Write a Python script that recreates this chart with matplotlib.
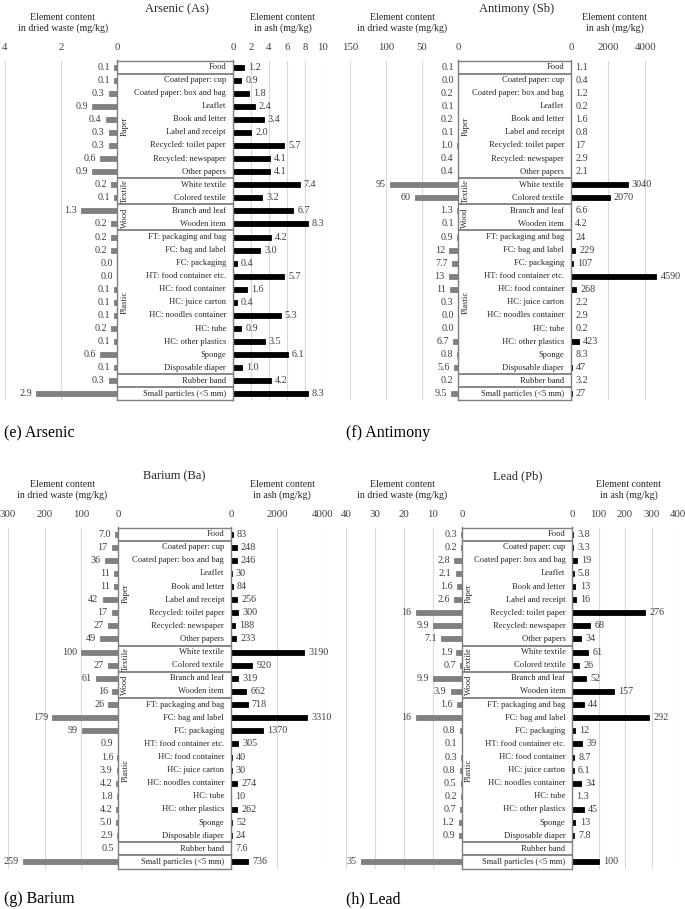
import numpy as np
import matplotlib
matplotlib.use("Agg")
import matplotlib.pyplot as plt

plt.rcParams['font.family'] = ['Liberation Serif', 'DejaVu Serif']

items = ["Food", "Coated paper: cup", "Coated paper: box and bag", "Leaflet",
         "Book and letter", "Label and receipt", "Recycled: toilet paper",
         "Recycled: newspaper", "Other papers", "White textile", "Colored textile",
         "Branch and leaf", "Wooden item", "FT: packaging and bag", "FC: bag and label",
         "FC: packaging", "HT: food container etc.", "HC: food container",
         "HC: juice carton", "HC: noodles container", "HC: tube", "HC: other plastics",
         "Sponge", "Disposable diaper", "Rubber band", "Small particles (<5 mm)"]

groups = ["Paper", "Textile", "Wood", "Plastic"]
group_rows = [(1, 8), (9, 10), (11, 12), (13, 23)]
separators = [0.5, 8.5, 10.5, 12.5, 23.5, 24.5]

as_dried = [0.1, 0.1, 0.3, 0.9, 0.4, 0.3, 0.3, 0.6, 0.9, 0.2, 0.1, 1.3, 0.2,
            0.2, 0.2, 0.0, 0.0, 0.1, 0.1, 0.1, 0.2, 0.1, 0.6, 0.1, 0.3, 2.9]
as_ash = [1.2, 0.9, 1.8, 2.4, 3.4, 2.0, 5.7, 4.1, 4.1, 7.4, 3.2, 6.7, 8.3,
          4.2, 3.0, 0.4, 5.7, 1.6, 0.4, 5.3, 0.9, 3.5, 6.1, 1.0, 4.2, 8.3]

sb_dried = [0.1, 0.0, 0.2, 0.1, 0.2, 0.1, 1.0, 0.4, 0.4, 95, 60, 1.3, 0.1,
            0.9, 12, 7.7, 13, 11, 0.3, 0.0, 0.0, 6.7, 0.8, 5.6, 0.2, 9.5]
sb_ash = [1.1, 0.4, 1.2, 0.2, 1.6, 0.8, 17, 2.9, 2.1, 3040, 2070, 6.6, 4.2,
          24, 229, 107, 4590, 268, 2.2, 2.9, 0.2, 423, 8.3, 47, 3.2, 27]

ba_dried = [7.0, 17, 36, 11, 11, 42, 17, 27, 49, 100, 27, 61, 16,
            26, 179, 99, 0.9, 1.6, 3.9, 4.2, 1.8, 4.2, 5.0, 2.9, 0.5, 259]
ba_ash = [83, 248, 246, 30, 84, 256, 300, 188, 233, 3190, 920, 319, 662,
          718, 3310, 1370, 305, 40, 30, 274, 10, 262, 52, 24, 7.6, 736]

pb_dried = [0.3, 0.2, 2.8, 2.1, 1.6, 2.6, 16, 9.9, 7.1, 1.9, 0.7, 9.9, 3.9,
            1.6, 16, 0.8, 0.1, 0.3, 0.8, 0.5, 0.2, 0.7, 1.2, 0.9, np.nan, 35]
pb_ash = [3.8, 3.3, 19, 5.8, 13, 16, 276, 68, 34, 61, 26, 52, 157,
          44, 292, 12, 39, 8.7, 6.1, 34, 1.3, 45, 13, 7.8, np.nan, 100]

W, H = 685, 909
fig = plt.figure(figsize=(6.85, 9.09), dpi=100)


def fx(x):
    return x / W


def fy(y):
    return 1 - y / H


def fmt(v):
    return f"{v:.1f}" if v < 10 else f"{v:.0f}"


def side(x0, x1, ytop, ybot, vals, xmax, ticks, color, left):
    ax = fig.add_axes([fx(x0), fy(ybot), fx(x1) - fx(x0), (ybot - ytop) / H])
    rows = np.arange(len(items))
    v = np.array(vals, dtype=float)
    ok = ~np.isnan(v)
    ax.barh(rows[ok], v[ok], height=0.38, color=color, edgecolor=color, linewidth=0.6, zorder=3)
    for r, val in zip(rows[ok], v[ok]):
        if left:
            ax.annotate(fmt(val), (val, r), xytext=(-3, 0), textcoords='offset points',
                        ha='right', va='center', fontsize=7.3, color='#404040')
        else:
            ax.annotate(fmt(val), (val, r), xytext=(3, 0), textcoords='offset points',
                        ha='left', va='center', fontsize=7.3, color='#404040')
    ax.set_ylim(len(items) - 0.5, -0.5)
    if left:
        ax.set_xlim(xmax, 0)
    else:
        ax.set_xlim(0, xmax)
    ax.set_xticks(ticks)
    ax.xaxis.tick_top()
    ax.tick_params(axis='x', length=0, pad=6, labelsize=7.8, labelcolor='#404040')
    ax.set_yticks([])
    for t in ticks:
        if t != 0:
            ax.axvline(t, color='#d9d9d9', lw=0.8, zorder=0)
    for s in ax.spines.values():
        s.set_visible(False)
    return ax


def panel(xs, ytop, ybot, dried, ash, lmax, lticks, rmax, rticks, title, letter, tpos):
    xL0, xL1, xR0, xR1 = xs
    side(xL0, xL1, ytop, ybot, dried, lmax, lticks, '#808080', True)
    side(xR0, xR1, ytop, ybot, ash, rmax, rticks, 'black', False)

    # centre box with item names
    bx = fig.add_axes([fx(xL1), fy(ybot), fx(xR0) - fx(xL1), (ybot - ytop) / H])
    bx.set_xlim(0, 1)
    bx.set_ylim(len(items) - 0.5, -0.5)
    bx.set_xticks([])
    bx.set_yticks([])
    for s in bx.spines.values():
        s.set_color('#7f7f7f')
        s.set_linewidth(1.0)
    for y in separators:
        bx.axhline(y, color='#7f7f7f', lw=1.3)
    for i, name in enumerate(items):
        bx.text(0.94, i, name, ha='right', va='center', fontsize=6.1, color='#262626')
    for g, (a, b) in zip(groups, group_rows):
        bx.text(0.065, (a + b) / 2, g, rotation=90, ha='center', va='center',
                fontsize=6.1, color='#262626')

    tx, lx, rx, ty = tpos
    fig.text(fx(tx), fy(ty), title, ha='center', va='center', fontsize=9.0, color='#262626')
    fig.text(fx(lx), fy(ty + 14), "Element content\nin dried waste (mg/kg)", ha='center',
             va='center', fontsize=7.1, color='#262626', linespacing=1.3)
    fig.text(fx(rx), fy(ty + 14), "Element content\nin ash (mg/kg)", ha='center',
             va='center', fontsize=7.1, color='#262626', linespacing=1.3)
    fig.text(fx(letter[1]), fy(letter[2]), letter[0], ha='left', va='center',
             fontsize=11.5, color='black')


panel((5, 117, 233, 323), 60.5, 400.5, as_dried, as_ash, 4, [0, 2, 4], 10, [0, 2, 4, 6, 8, 10],
      "Arsenic (As)", ("(e) Arsenic", 4, 433), (177, 63, 283, 9))
panel((350, 458, 571, 664), 60.5, 400.5, sb_dried, sb_ash, 150, [0, 50, 100, 150], 5000,
      [0, 2000, 4000], "Antimony (Sb)", ("(f) Antimony", 346, 433), (517, 402, 615, 9))
panel((8, 118, 231, 323), 527.5, 868.5, ba_dried, ba_ash, 300, [0, 100, 200, 300], 4000,
      [0, 2000, 4000], "Barium (Ba)", ("(g) Barium", 4, 899), (174, 62, 282, 476))
panel((346, 462, 572, 678), 527.5, 868.5, pb_dried, pb_ash, 40, [0, 10, 20, 30, 40], 400,
      [0, 100, 200, 300, 400], "Lead (Pb)", ("(h) Lead", 346, 899), (518, 402, 629, 476))

fig.savefig("out.png", dpi=100)
